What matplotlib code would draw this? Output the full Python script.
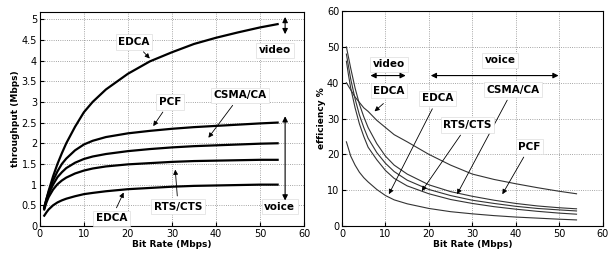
import matplotlib
matplotlib.use('Agg')
from matplotlib import pyplot as plt

# bit rate (Mbps)
rate = [1, 1.5, 2, 3, 4, 5, 6, 8, 10, 12, 15, 20, 25, 30, 35, 40, 45, 50, 54]

# throughput (Mbps)
thr_edca_video = [0.45, 0.65, 0.85, 1.2, 1.5, 1.76, 2.0, 2.4, 2.75, 3.0, 3.3, 3.68, 3.98, 4.2, 4.4, 4.55, 4.68, 4.8, 4.88]
thr_pcf = [0.45, 0.65, 0.82, 1.1, 1.32, 1.5, 1.63, 1.83, 1.97, 2.06, 2.15, 2.24, 2.3, 2.35, 2.39, 2.42, 2.45, 2.48, 2.5]
thr_csma = [0.43, 0.62, 0.78, 1.0, 1.18, 1.3, 1.4, 1.53, 1.62, 1.68, 1.74, 1.81, 1.86, 1.9, 1.93, 1.95, 1.97, 1.99, 2.0]
thr_rts = [0.4, 0.57, 0.7, 0.88, 1.01, 1.1, 1.17, 1.27, 1.34, 1.39, 1.44, 1.49, 1.52, 1.55, 1.57, 1.58, 1.59, 1.6, 1.6]
thr_edca_voice = [0.25, 0.33, 0.4, 0.5, 0.57, 0.62, 0.66, 0.72, 0.77, 0.8, 0.84, 0.89, 0.92, 0.95, 0.97, 0.98, 0.99, 1.0, 1.0]

# efficiency %
eff_1 = [40, 39, 38, 36, 34.5, 33, 32, 29.5, 27.5, 25.5, 23.5, 20, 17, 14.5, 13, 11.8, 10.7, 9.7, 9.0]
eff_2 = [50, 47, 44, 38.5, 34, 30.5, 27.5, 23, 19.5, 17, 14.5, 11.5, 9.6, 8.3, 7.2, 6.3, 5.6, 5.1, 4.8]
eff_3 = [48, 44.5, 41, 35.5, 31, 27.5, 24.5, 20.5, 17.5, 15.2, 12.8, 10.2, 8.5, 7.2, 6.3, 5.5, 4.9, 4.5, 4.2]
eff_4 = [46, 42, 38.5, 33, 28.5, 25, 22, 18.5, 15.5, 13.3, 11.2, 9.0, 7.4, 6.3, 5.4, 4.7, 4.1, 3.6, 3.3]
eff_5 = [23.5, 21.5, 19.5, 17, 15, 13.5, 12.3, 10.2, 8.5, 7.3, 6.2, 4.9, 4.0, 3.4, 2.9, 2.5, 2.2, 1.9, 1.7]

fig = plt.figure(figsize=(6.13, 2.58), dpi=100)
ax1 = fig.add_axes([0.065, 0.124, 0.431, 0.829])
ax2 = fig.add_axes([0.558, 0.124, 0.425, 0.833])

box = dict(boxstyle='square,pad=0.25', fc='white', ec='#dddddd', lw=0.5)
arr = dict(arrowstyle='-|>', color='black', lw=0.6, mutation_scale=7)
dbl = dict(arrowstyle='<|-|>', color='black', lw=0.8, mutation_scale=8)

def style(ax):
    ax.set_xlim(0, 60)
    ax.set_xticks(range(0, 61, 10))
    ax.grid(True, linestyle=':', color='#888888', lw=0.6)
    ax.tick_params(direction='in', labelsize=7, length=3, pad=2)
    ax.set_xlabel('Bit Rate (Mbps)', fontsize=6.5, fontweight='bold', labelpad=1)
    for s in ax.spines.values():
        s.set_linewidth(0.8)

# left plot: throughput
for ys in [thr_edca_video, thr_pcf, thr_csma, thr_rts, thr_edca_voice]:
    ax1.plot(rate, ys, color='black', lw=1.6)
style(ax1)
ax1.set_ylim(0, 5.17)
ax1.set_yticks([0, 0.5, 1, 1.5, 2, 2.5, 3, 3.5, 4, 4.5, 5])
ax1.set_yticklabels(['0', '0.5', '1', '1.5', '2', '2.5', '3', '3.5', '4', '4.5', '5'])
ax1.set_ylabel('throughput (Mbps)', fontsize=6.5, fontweight='bold', labelpad=1)

kw = dict(fontsize=7.5, fontweight='bold', ha='center', va='center', bbox=box)
ax1.annotate('EDCA', xy=(25.4, 4.0), xytext=(21.4, 4.45), arrowprops=arr, **kw)
ax1.annotate('PCF', xy=(25.4, 2.36), xytext=(29.5, 3.0), arrowprops=arr, **kw)
ax1.annotate('CSMA/CA', xy=(37.9, 2.08), xytext=(45.5, 3.16), arrowprops=arr, **kw)
ax1.annotate('RTS/CTS', xy=(30.7, 1.43), xytext=(31.4, 0.47), arrowprops=arr, **kw)
ax1.annotate('EDCA', xy=(19.3, 0.87), xytext=(16.3, 0.19), arrowprops=arr, **kw)
ax1.text(53.4, 4.25, 'video', **kw)
ax1.text(54.5, 0.47, 'voice', **kw)
ax1.annotate('', xy=(55.7, 5.12), xytext=(55.7, 4.57), arrowprops=dbl)
ax1.annotate('', xy=(55.7, 2.72), xytext=(55.7, 0.55), arrowprops=dbl)

# right plot: efficiency
for ys in [eff_1, eff_2, eff_3, eff_4, eff_5]:
    ax2.plot(rate, ys, color='#333333', lw=0.8)
style(ax2)
ax2.set_ylim(0, 60)
ax2.set_yticks(range(0, 61, 10))
ax2.set_ylabel('efficiency %', fontsize=6.5, fontweight='bold', labelpad=1)

ax2.text(10.8, 45.2, 'video', **kw)
ax2.text(36.4, 46.3, 'voice', **kw)
ax2.annotate('', xy=(5.9, 42.0), xytext=(15.3, 42.0), arrowprops=dbl)
ax2.annotate('', xy=(19.8, 42.0), xytext=(50.5, 42.0), arrowprops=dbl)
ax2.text(10.8, 37.8, 'EDCA', **kw)
ax2.annotate('', xy=(7.0, 31.5), xytext=(10.0, 34.7), arrowprops=arr)
ax2.annotate('EDCA', xy=(10.5, 8.2), xytext=(22, 35.6), arrowprops=arr, **kw)
ax2.annotate('CSMA/CA', xy=(26.2, 8.2), xytext=(39.3, 38.0), arrowprops=arr, **kw)
ax2.annotate('RTS/CTS', xy=(18, 9.1), xytext=(28.9, 28.2), arrowprops=arr, **kw)
ax2.annotate('PCF', xy=(36.6, 8.2), xytext=(43.2, 22.1), arrowprops=arr, **kw)

fig.savefig('out.png', dpi=100)
